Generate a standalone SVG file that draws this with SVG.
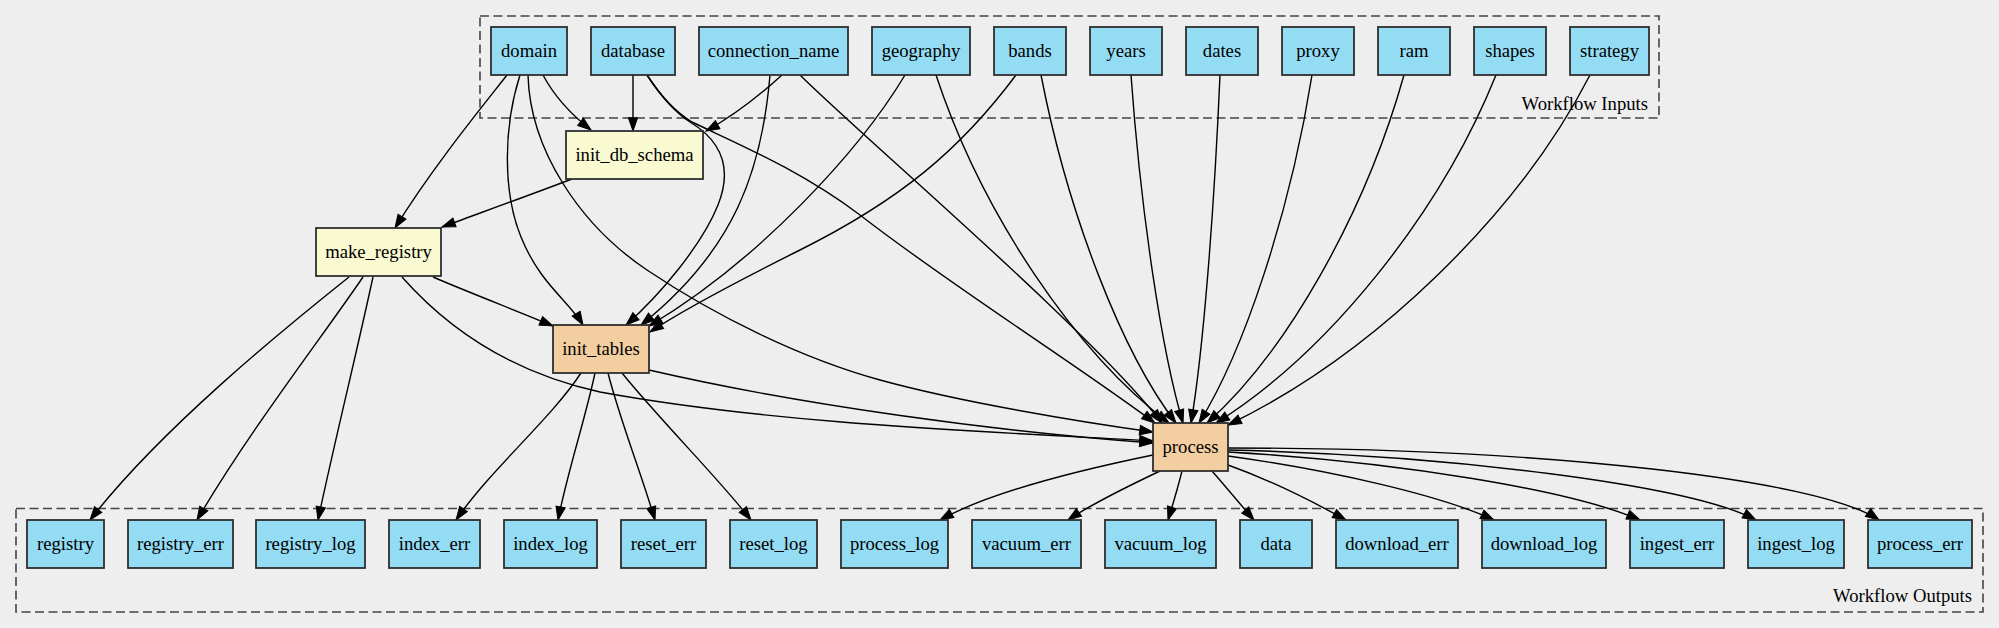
<svg xmlns="http://www.w3.org/2000/svg" width="1999" height="628" viewBox="0 0 1999 628">
<defs>
<style>
.io rect{fill:#94dcf4;stroke:#2e2e2e;stroke-width:1.8}
.ys rect{fill:#f9f9d2;stroke:#2e2e2e;stroke-width:1.8}
.og rect{fill:#f3cea0;stroke:#2e2e2e;stroke-width:1.8}
text{font-family:"Liberation Serif","Times New Roman",serif;font-size:18.67px;fill:#000;text-anchor:middle}
.cl{fill:none;stroke:#444;stroke-width:1.6;stroke-dasharray:9,4.5}
.cll{text-anchor:end}
#edges path{fill:none;stroke:#000;stroke-width:1.4;marker-end:url(#ah)}
</style>
<marker id="ah" markerUnits="userSpaceOnUse" markerWidth="14" markerHeight="10" refX="13.3" refY="4.67" orient="auto" overflow="visible">
<path d="M0,0 L13.3,4.67 L0,9.33 z" fill="#000" stroke="#000" stroke-width="1"/>
</marker>
</defs>
<rect x="0" y="0" width="1999" height="628" fill="#eeeeee"/>
<g id="cluster_inputs">
<rect class="cl" x="480" y="16" width="1179" height="102"/>
<text class="cll" x="1648" y="110">Workflow Inputs</text>
</g>
<g id="cluster_outputs">
<rect class="cl" x="16" y="508.5" width="1967" height="103.5"/>
<text class="cll" x="1972" y="602">Workflow Outputs</text>
</g>
<g id="edges">
<path d="M507,75 C482,107 432,168 395,228"/>
<path d="M543,75 C552,92 568,112 591,130"/>
<path d="M520,75 C504,125 502,190 521,237 C540,284 568,300 583,325"/>
<path d="M528,75 C530,150 580,225 647,270 C714,315 800,358 880,380 C960,402 1080,422 1153,432"/>
<path d="M633,75 L633,131"/>
<path d="M647,75 C660,95 675,112 690,122 C728,145 730,175 718,205 C702,245 660,295 626,325"/>
<path d="M647,75 C660,95 675,112 692,122 C740,145 800,170 860,215 C950,285 1070,360 1155,423"/>
<path d="M782,75 C760,95 735,115 706,131"/>
<path d="M770,75 C762,170 735,250 641,325"/>
<path d="M800,75 C860,135 1090,330 1162,423"/>
<path d="M905,75 C860,150 760,260 649,326"/>
<path d="M936,75 C982,214 1076,353 1169,423"/>
<path d="M1016,75 C960,150 900,200 800,250 C730,285 680,312 650,332"/>
<path d="M1041,75 C1068,214 1122,353 1176,423"/>
<path d="M1131,75 C1141,214 1162,353 1183,423"/>
<path d="M1220,75 C1214,214 1203,353 1191,423"/>
<path d="M1312,75 C1290,214 1243,353 1199,423"/>
<path d="M1404,75 C1365,214 1286,353 1207,423"/>
<path d="M1496,75 C1440,214 1328,353 1216,423"/>
<path d="M1590,75 C1518,215 1373,355 1228,425"/>
<path d="M572,179 C530,195 480,213 442,227"/>
<path d="M433,277 C475,295 515,310 553,326"/>
<path d="M402,277 C440,320 500,370 600,392 C780,425 1000,432 1153,441"/>
<path d="M349,277 C280,332 160,430 90,520"/>
<path d="M363,277 C320,340 250,430 197,520"/>
<path d="M373,277 C355,360 335,440 318,520"/>
<path d="M649,370 C800,405 1000,432 1153,443"/>
<path d="M581,373 C550,420 490,470 456,520"/>
<path d="M595,373 C585,420 568,470 558,520"/>
<path d="M608,373 C620,420 640,470 655,520"/>
<path d="M622,373 C660,420 720,480 751,520"/>
<path d="M1153,455 C1080,470 990,492 940,520"/>
<path d="M1160,471 C1120,490 1090,505 1068,520"/>
<path d="M1182,471 C1178,487 1173,504 1168,520"/>
<path d="M1212,471 C1226,487 1240,504 1254,520"/>
<path d="M1228,465 C1270,480 1310,500 1346,520"/>
<path d="M1228,456 C1330,470 1440,495 1494,520"/>
<path d="M1228,452 C1400,462 1570,490 1640,520"/>
<path d="M1228,450 C1450,455 1690,485 1756,520"/>
<path d="M1228,448 C1550,448 1820,480 1879,520"/>
</g>
<g id="n_domain" class="io"><rect x="491" y="27" width="76" height="48"/><text x="529" y="57">domain</text></g>
<g id="n_database" class="io"><rect x="591" y="27" width="84" height="48"/><text x="633" y="57">database</text></g>
<g id="n_connection_name" class="io"><rect x="699" y="27" width="149" height="48"/><text x="773.5" y="57">connection_name</text></g>
<g id="n_geography" class="io"><rect x="872" y="27" width="98" height="48"/><text x="921" y="57">geography</text></g>
<g id="n_bands" class="io"><rect x="994" y="27" width="72" height="48"/><text x="1030" y="57">bands</text></g>
<g id="n_years" class="io"><rect x="1090" y="27" width="72" height="48"/><text x="1126" y="57">years</text></g>
<g id="n_dates" class="io"><rect x="1186" y="27" width="72" height="48"/><text x="1222" y="57">dates</text></g>
<g id="n_proxy" class="io"><rect x="1282" y="27" width="72" height="48"/><text x="1318" y="57">proxy</text></g>
<g id="n_ram" class="io"><rect x="1378" y="27" width="72" height="48"/><text x="1414" y="57">ram</text></g>
<g id="n_shapes" class="io"><rect x="1474" y="27" width="72" height="48"/><text x="1510" y="57">shapes</text></g>
<g id="n_strategy" class="io"><rect x="1570" y="27" width="79" height="48"/><text x="1609.5" y="57">strategy</text></g>
<g id="n_init_db_schema" class="ys"><rect x="566" y="131" width="137" height="48"/><text x="634.5" y="161">init_db_schema</text></g>
<g id="n_make_registry" class="ys"><rect x="316" y="228" width="125" height="48"/><text x="378.5" y="258">make_registry</text></g>
<g id="n_init_tables" class="og"><rect x="553" y="325" width="96" height="48"/><text x="601" y="355">init_tables</text></g>
<g id="n_process" class="og"><rect x="1153" y="423" width="75" height="48"/><text x="1190.5" y="453">process</text></g>
<g id="n_registry" class="io"><rect x="27" y="520" width="77" height="48"/><text x="65.5" y="550">registry</text></g>
<g id="n_registry_err" class="io"><rect x="128" y="520" width="105" height="48"/><text x="180.5" y="550">registry_err</text></g>
<g id="n_registry_log" class="io"><rect x="256" y="520" width="109" height="48"/><text x="310.5" y="550">registry_log</text></g>
<g id="n_index_err" class="io"><rect x="389" y="520" width="91" height="48"/><text x="434.5" y="550">index_err</text></g>
<g id="n_index_log" class="io"><rect x="504" y="520" width="93" height="48"/><text x="550.5" y="550">index_log</text></g>
<g id="n_reset_err" class="io"><rect x="621" y="520" width="85" height="48"/><text x="663.5" y="550">reset_err</text></g>
<g id="n_reset_log" class="io"><rect x="730" y="520" width="87" height="48"/><text x="773.5" y="550">reset_log</text></g>
<g id="n_process_log" class="io"><rect x="841" y="520" width="107" height="48"/><text x="894.5" y="550">process_log</text></g>
<g id="n_vacuum_err" class="io"><rect x="972" y="520" width="109" height="48"/><text x="1026.5" y="550">vacuum_err</text></g>
<g id="n_vacuum_log" class="io"><rect x="1105" y="520" width="111" height="48"/><text x="1160.5" y="550">vacuum_log</text></g>
<g id="n_data" class="io"><rect x="1240" y="520" width="72" height="48"/><text x="1276" y="550">data</text></g>
<g id="n_download_err" class="io"><rect x="1336" y="520" width="122" height="48"/><text x="1397" y="550">download_err</text></g>
<g id="n_download_log" class="io"><rect x="1482" y="520" width="124" height="48"/><text x="1544" y="550">download_log</text></g>
<g id="n_ingest_err" class="io"><rect x="1630" y="520" width="94" height="48"/><text x="1677" y="550">ingest_err</text></g>
<g id="n_ingest_log" class="io"><rect x="1748" y="520" width="96" height="48"/><text x="1796" y="550">ingest_log</text></g>
<g id="n_process_err" class="io"><rect x="1868" y="520" width="104" height="48"/><text x="1920" y="550">process_err</text></g>
</svg>
